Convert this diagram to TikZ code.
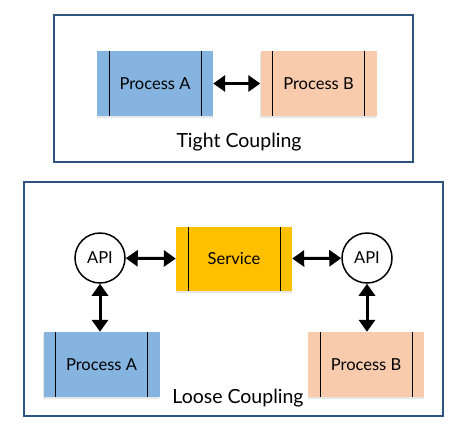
\documentclass[tikz,border=0pt]{standalone}
\usepackage{fontspec}
\setmainfont{Lato}
\usetikzlibrary{arrows.meta,shadows}

\definecolor{frameblue}{RGB}{47,84,128}
\definecolor{procblue}{RGB}{133,180,224}
\definecolor{procpeach}{RGB}{248,203,173}
\definecolor{servgold}{RGB}{255,192,0}

\begin{document}
\begin{tikzpicture}[
x=1pt, y=-1pt,
  frame/.style = {draw=frameblue, line width=2pt},% outer boxes
   proc/.style = {rectangle, minimum width=116pt, minimum height=65pt,
                  font=\fontsize{16.5}{20}\selectfont,
                  drop shadow={shadow xshift=-0.5pt, shadow yshift=-1.5pt,
                               opacity=0.2},
                  path picture={% the two bars of a process box
                    \draw[line width=0.9pt]
                      ([xshift=12pt]path picture bounding box.north west)
                   -- ([xshift=12pt]path picture bounding box.south west)
                      ([xshift=-12pt]path picture bounding box.north east)
                   -- ([xshift=-12pt]path picture bounding box.south east);}},
    api/.style = {circle, draw, line width=1.5pt, fill=white,
                  minimum size=50pt, inner sep=0pt,
                  font=\fontsize{16.5}{20}\selectfont},
  title/.style = {font=\fontsize{19.5}{23}\selectfont},
   link/.style = {{Triangle[length=12pt,width=16pt]}-{Triangle[length=12pt,width=16pt]},
                  line width=3pt},
                        ]
\useasboundingbox (0,0) rectangle (463,432);
% tight coupling
\draw[frame] (54,15) rectangle (413,162);
\node[proc, fill=procblue]  (tA) at (155,83.5)   {Process A};
\node[proc, fill=procpeach] (tB) at (318.5,83.5) {Process B};
\draw[link] (tA) -- (tB);
\node[title] (tight) at (239,142) {Tight Coupling};
% loose coupling
\draw[frame] (24,182) rectangle (443,416);
\node[proc, fill=servgold, minimum height=64pt] (svc) at (234,259) {Service};
\node[api] (apiL) at (100,258) {API};
\node[api] (apiR) at (367,258) {API};
\node[proc, fill=procblue]  (lA) at (101.5,364.5) {Process A};
\node[proc, fill=procpeach] (lB) at (366,364.5)   {Process B};
\draw[link] (apiL) -- (svc);
\draw[link] (svc) -- (apiR);
\draw[link] (apiL.south) -- (apiL.south |- lA.north);
\draw[link] (apiR.south) -- (apiR.south |- lB.north);
\node[title] (loose) at (238,398) {Loose Coupling};
\end{tikzpicture}
\end{document}
